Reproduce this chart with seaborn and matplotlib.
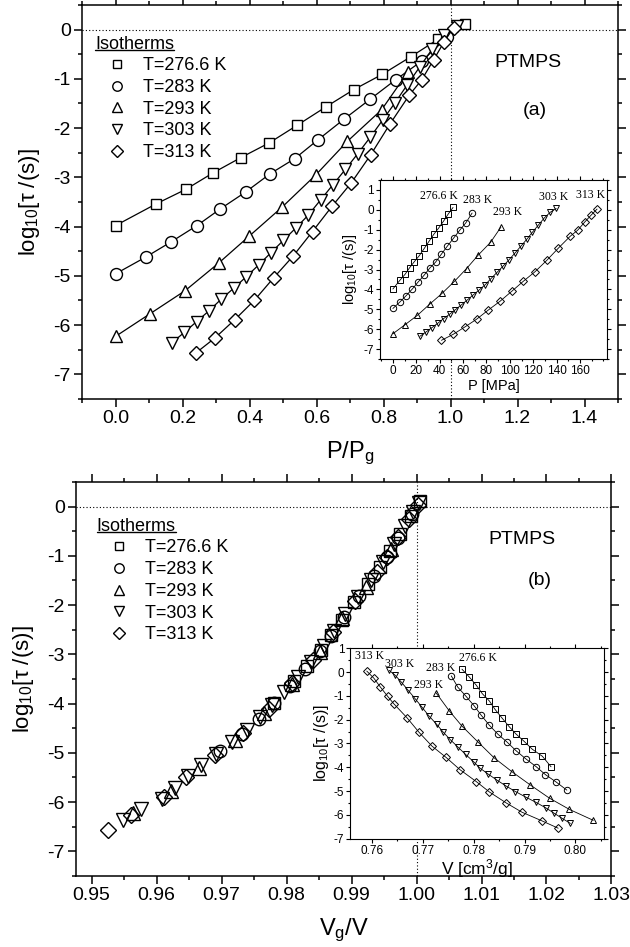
import seaborn as sns
import matplotlib.pyplot as plt
from matplotlib.lines import Line2D
from matplotlib.ticker import MultipleLocator, FormatStrFormatter

sns.set_style("ticks", {"axes.edgecolor": "black", "xtick.color": "black",
                        "ytick.color": "black", "text.color": "black",
                        "axes.labelcolor": "black"})
plt.rcParams['font.family'] = ['Liberation Sans', 'DejaVu Sans']
plt.rcParams['mathtext.fontset'] = 'custom'
plt.rcParams['mathtext.rm'] = 'Liberation Sans'
plt.rcParams['mathtext.it'] = 'Liberation Sans:italic'
plt.rcParams['mathtext.default'] = 'regular'
plt.rcParams['axes.unicode_minus'] = False

temps = ["276.6 K", "283 K", "293 K", "303 K", "313 K"]
markers = ["s", "o", "^", "v", "D"]

# log10(tau) for every isotherm (same points in all four plots)
logtau_2766 = [-3.98, -3.54, -3.24, -2.91, -2.60, -2.30, -1.94, -1.57, -1.22, -0.91, -0.55, -0.20, 0.12]
logtau_283 = [-4.96, -4.62, -4.31, -3.98, -3.64, -3.30, -2.93, -2.62, -2.24, -1.82, -1.42, -1.02, -0.64, -0.16]
logtau_293 = [-6.23, -5.77, -5.30, -4.74, -4.20, -3.60, -2.95, -2.27, -1.63, -0.87]
logtau_303 = [-6.36, -6.15, -5.93, -5.71, -5.47, -5.25, -5.02, -4.78, -4.53, -4.28, -4.03, -3.77,
              -3.46, -3.15, -2.84, -2.52, -2.19, -1.84, -1.49, -1.12, -0.76, -0.40, -0.12, 0.07]
logtau_313 = [-6.56, -6.26, -5.89, -5.50, -5.04, -4.60, -4.10, -3.59, -3.11, -2.54, -1.92, -1.33,
              -1.02, -0.61, -0.26, 0.04]

# P/Pg (panel a)
ppg_2766 = [0.0, 0.121, 0.211, 0.291, 0.374, 0.459, 0.543, 0.628, 0.711, 0.796, 0.882, 0.962, 1.042]
ppg_283 = [0.0, 0.090, 0.166, 0.243, 0.313, 0.388, 0.461, 0.535, 0.604, 0.682, 0.759, 0.836, 0.914, 0.990]
ppg_293 = [0.0, 0.103, 0.208, 0.308, 0.398, 0.498, 0.598, 0.692, 0.794, 0.872]
ppg_303 = [0.168, 0.205, 0.242, 0.279, 0.316, 0.353, 0.390, 0.427, 0.464, 0.501, 0.538, 0.575,
           0.612, 0.649, 0.686, 0.723, 0.760, 0.797, 0.834, 0.871, 0.908, 0.945, 0.982, 1.019]
ppg_313 = [0.241, 0.297, 0.356, 0.414, 0.472, 0.530, 0.588, 0.646, 0.704, 0.762, 0.819, 0.877,
           0.914, 0.950, 0.980, 1.009]

# P [MPa] (inset a)
p_2766 = [0.0, 6.0, 10.4, 14.3, 18.4, 22.6, 26.8, 31.0, 35.1, 39.2, 43.5, 47.4, 51.4]
p_283 = [0.0, 6.2, 11.4, 16.6, 21.4, 26.5, 31.5, 36.6, 41.3, 46.6, 51.9, 57.2, 62.5, 67.7]
p_293 = [0.0, 10.5, 21.0, 31.5, 42.0, 52.5, 63.0, 73.0, 83.5, 92.3]
p_303 = [23.0, 28.1, 33.2, 38.2, 43.3, 48.4, 53.4, 58.5, 63.6, 68.6, 73.7, 78.8,
         83.8, 88.9, 94.0, 99.1, 104.1, 109.2, 114.3, 119.3, 124.4, 129.5, 134.5, 139.6]
p_313 = [41.5, 51.5, 61.5, 71.5, 81.5, 91.5, 101.5, 111.5, 121.5, 131.5, 141.5, 151.5,
         158.0, 164.0, 169.5, 174.5]

# Vg/V (panel b)
vgv_2766 = [0.9781, 0.9812, 0.9832, 0.9853, 0.9869, 0.9885, 0.9904, 0.9926, 0.9944, 0.9959, 0.9975, 0.9991, 1.0006]
vgv_283 = [0.9698, 0.9732, 0.9757, 0.9781, 0.9805, 0.9828, 0.9852, 0.9868, 0.9888, 0.9911, 0.9934, 0.9954, 0.9971, 0.9993]
vgv_293 = [0.9563, 0.9622, 0.9665, 0.9720, 0.9766, 0.9808, 0.9851, 0.9886, 0.9922, 0.9961]
vgv_303 = [0.9548, 0.9576, 0.9609, 0.9628, 0.9648, 0.9669, 0.9692, 0.9716, 0.9739, 0.9759, 0.9778, 0.9796,
           0.9818, 0.9838, 0.9857, 0.9873, 0.9890, 0.9910, 0.9930, 0.9949, 0.9966, 0.9982, 0.9994, 1.0004]
vgv_313 = [0.9526, 0.9560, 0.9612, 0.9646, 0.9690, 0.9733, 0.9773, 0.9809, 0.9841, 0.9872, 0.9905, 0.9939,
           0.9954, 0.9972, 0.9989, 1.0002]

# V [cm3/g] (inset b)
v_2766 = [0.7952, 0.7935, 0.7915, 0.7899, 0.7883, 0.7870, 0.7856, 0.7842, 0.7831, 0.7817, 0.7805, 0.7791, 0.7777]
v_283 = [0.7983, 0.7962, 0.7941, 0.7923, 0.7902, 0.7883, 0.7865, 0.7848, 0.7831, 0.7815, 0.7801, 0.7785, 0.7769, 0.7756]
v_293 = [0.8035, 0.7988, 0.7949, 0.7911, 0.7876, 0.7840, 0.7809, 0.7777, 0.7752, 0.7726]
v_303 = [0.7990, 0.7974, 0.7958, 0.7942, 0.7922, 0.7902, 0.7882, 0.7863, 0.7845, 0.7828, 0.7812, 0.7800,
         0.7784, 0.7769, 0.7754, 0.7740, 0.7727, 0.7712, 0.7699, 0.7685, 0.7671, 0.7657, 0.7645, 0.7634]
v_313 = [0.7966, 0.7935, 0.7895, 0.7864, 0.7831, 0.7805, 0.7773, 0.7746, 0.7718, 0.7693, 0.7669, 0.7643,
         0.7631, 0.7616, 0.7604, 0.7590]

# inset label positions
lab_a_x = [39, 72, 98, 137, 169]
lab_a_y = [0.70, 0.50, -0.13, 0.67, 0.75]
lab_b_x = [0.7808, 0.7735, 0.7711, 0.7655, 0.7596]
lab_b_y = [0.59, 0.17, -0.54, 0.35, 0.66]

logtau = [logtau_2766, logtau_283, logtau_293, logtau_303, logtau_313]
ppg = [ppg_2766, ppg_283, ppg_293, ppg_303, ppg_313]
pres = [p_2766, p_283, p_293, p_303, p_313]
vgv = [vgv_2766, vgv_283, vgv_293, vgv_303, vgv_313]
vol = [v_2766, v_283, v_293, v_303, v_313]

main_ms = {"s": 7.8, "o": 8.6, "^": 9.2, "v": 9.2, "D": 7.4}
ins_ms = {"s": 4.4, "o": 4.6, "^": 5.0, "v": 5.0, "D": 3.9}
leg_ms = {"s": 6.2, "o": 6.8, "^": 7.2, "v": 7.2, "D": 5.8}

fig = plt.figure(figsize=(6.3, 9.47), dpi=100)
ax_a = fig.add_axes([0.1302, 0.5787, 0.8508, 0.4161])
ax_b = fig.add_axes([0.1206, 0.0750, 0.8500, 0.4161])
in_a = fig.add_axes([0.6032, 0.6209, 0.3603, 0.1890])
in_b = fig.add_axes([0.5563, 0.1144, 0.4024, 0.2011])


def style(ax, big, lw, size, pad):
    ax.tick_params(which='both', direction='out', top=True, right=True,
                   width=lw, labelsize=size, pad=pad)
    ax.tick_params(which='major', length=big)
    ax.tick_params(which='minor', length=big * 0.55)
    for s in ax.spines.values():
        s.set_linewidth(lw)


for i in range(5):
    m = markers[i]
    sns.lineplot(x=ppg[i], y=logtau[i], ax=ax_a, color='black', lw=0.9,
                 marker=m, markersize=main_ms[m], markerfacecolor='white',
                 markeredgecolor='black', markeredgewidth=1.0,
                 estimator=None, sort=False, legend=False)
    sns.lineplot(x=vgv[i], y=logtau[i], ax=ax_b, color='black', lw=0,
                 marker=m, markersize=main_ms[m] + 0.4, markerfacecolor='none',
                 markeredgecolor='black', markeredgewidth=1.0,
                 estimator=None, sort=False, legend=False)
    sns.lineplot(x=pres[i], y=logtau[i], ax=in_a, color='black', lw=0.6,
                 marker=m, markersize=ins_ms[m], markerfacecolor='none',
                 markeredgecolor='black', markeredgewidth=0.7,
                 estimator=None, sort=False, legend=False)
    sns.lineplot(x=vol[i], y=logtau[i], ax=in_b, color='black', lw=0.6,
                 marker=m, markersize=ins_ms[m], markerfacecolor='none',
                 markeredgecolor='black', markeredgewidth=0.7,
                 estimator=None, sort=False, legend=False)
    in_a.text(lab_a_x[i], lab_a_y[i], temps[i], family='Liberation Serif',
              fontsize=8.5, ha='center', va='center')
    in_b.text(lab_b_x[i], lab_b_y[i], temps[i], family='Liberation Serif',
              fontsize=8.5, ha='center', va='center')

# main panels
for ax, xl, xlabel, txt, tpos, lpos in [
        (ax_a, (-0.1, 1.5), 'P/P$_g$', '(a)', (0.832, 0.855, 0.845, 0.733), (0.024, 0.922)),
        (ax_b, (0.9476, 1.03), 'V$_g$/V', '(b)', (0.832, 0.853, 0.866, 0.751), (0.039, 0.909))]:
    ax.axhline(0, color='black', lw=0.8, ls=(0, (1, 2)), zorder=0)
    ax.axvline(1.0, color='black', lw=0.8, ls=(0, (1, 2)), zorder=0)
    ax.set_xlim(*xl)
    ax.set_ylim(-7.5, 0.5)
    ax.yaxis.set_major_locator(MultipleLocator(1))
    ax.yaxis.set_minor_locator(MultipleLocator(0.5))
    ax.yaxis.set_major_formatter(FormatStrFormatter('%d'))
    style(ax, 5.5, 1.1, 14, 2.5)
    ax.set_xlabel(xlabel, fontsize=17, labelpad=9)
    ax.set_ylabel('log$_{10}$[τ /(s)]', fontsize=16, labelpad=8)
    ax.text(tpos[0], tpos[1], 'PTMPS', transform=ax.transAxes, fontsize=14,
            ha='center', va='center')
    ax.text(tpos[2], tpos[3], txt, transform=ax.transAxes, fontsize=14,
            ha='center', va='center')
    handles = [Line2D([], [], ls='none', marker=mk, markersize=leg_ms[mk],
                      markerfacecolor='white', markeredgecolor='black',
                      markeredgewidth=1.0) for mk in markers]
    leg = ax.legend(handles, ['T=' + t for t in temps], title='Isotherms',
                    loc='upper left', bbox_to_anchor=lpos, frameon=False,
                    alignment='left', fontsize=13, title_fontsize=13,
                    handlelength=2.4, handletextpad=0.25, labelspacing=0.26,
                    borderpad=0, borderaxespad=0)

ax_a.xaxis.set_major_locator(MultipleLocator(0.2))
ax_a.xaxis.set_minor_locator(MultipleLocator(0.1))
ax_a.xaxis.set_major_formatter(FormatStrFormatter('%.1f'))
ax_b.xaxis.set_major_locator(MultipleLocator(0.01))
ax_b.xaxis.set_minor_locator(MultipleLocator(0.005))
ax_b.xaxis.set_major_formatter(FormatStrFormatter('%.2f'))

# insets
in_a.set_xlim(-11, 183)
in_a.set_ylim(-7.5, 1.5)
in_a.set_xticks(range(0, 161, 20))
in_a.xaxis.set_minor_locator(MultipleLocator(10))
in_a.set_xlabel('P [MPa]', fontsize=10.5, labelpad=1)
in_b.set_xlim(0.7558, 0.8056)
in_b.set_ylim(-7, 1)
in_b.xaxis.set_major_locator(MultipleLocator(0.01))
in_b.xaxis.set_minor_locator(MultipleLocator(0.005))
in_b.xaxis.set_major_formatter(FormatStrFormatter('%.2f'))
in_b.set_xlabel('V [cm$^3$/g]', fontsize=12.5, labelpad=0)
for ax in (in_a, in_b):
    ax.set_facecolor('white')
    ax.yaxis.set_major_locator(MultipleLocator(1))
    ax.yaxis.set_minor_locator(MultipleLocator(0.5))
    ax.yaxis.set_major_formatter(FormatStrFormatter('%d'))
    style(ax, 3, 0.8, 8.5, 1.5)
in_a.set_ylabel('log$_{10}$[τ /(s)]', fontsize=10.5, labelpad=3)
in_b.set_ylabel('log$_{10}$[τ /(s)]', fontsize=11.5, labelpad=2)

# underline the legend titles
fig.canvas.draw()
for ax in (ax_a, ax_b):
    t = ax.get_legend().get_title()
    bb = t.get_window_extent()
    inv = fig.transFigure.inverted()
    (x0, y0), (x1, _) = inv.transform([(bb.x0, bb.y0 + 2.5), (bb.x1, bb.y0)])
    fig.add_artist(Line2D([x0, x1], [y0, y0], transform=fig.transFigure,
                          color='black', lw=1.0))

fig.savefig("out.png", dpi=100)
